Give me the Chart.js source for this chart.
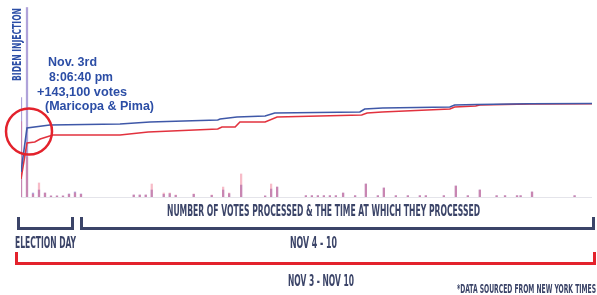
<!DOCTYPE html>
<html lang="en">
<head>
  <meta charset="UTF-8">
  <title>Biden injection</title>
  <style>
    html, body { margin: 0; padding: 0; background: #fff; }
    #wrap { width: 597px; height: 295px; }
  </style>
</head>
<body>
<div id="wrap">
  <canvas id="grafico" width="597" height="295"></canvas>
</div>

<script src="https://cdn.jsdelivr.net/npm/chart.js"></script>

<script>
  // reporting sequence (batch position) and running totals, thousands of votes
  const bidenX = [0, 1, 4.8, 16.5, 21.5, 32.8, 33.2, 36, 40.7, 42.3, 56.5, 57.3, 60.3, 71.5, 72.3, 76, 84.8, 95.2];
  const bidenY = [447, 1233, 1286, 1304, 1340, 1376, 1393, 1429, 1447, 1501, 1519, 1572, 1590, 1608, 1644, 1653, 1667, 1670];

  const trumpX = [0, 1, 2.3, 3.2, 5.3, 16.5, 21.2, 32.8, 33.5, 35.7, 36.5, 40.7, 42.7, 56.8, 57.7, 60.2, 71.5, 72.3, 75.8, 76.5, 84.8, 95.2];
  const trumpY = [322, 965, 983, 1036, 1108, 1108, 1161, 1215, 1251, 1251, 1340, 1340, 1429, 1465, 1501, 1519, 1572, 1608, 1626, 1644, 1661, 1667];

  // votes in each batch, thousands
  const batchX = [0, 1, 2, 3, 4, 5, 6, 7, 8, 9, 10, 18.8, 19.8, 20.8, 21.8, 23.8, 24.8, 25.8, 28.8, 31.8, 33.7, 34.7, 36.7, 40.7, 41.7, 42.7,
                  47.5, 48.5, 49.5, 50.5, 51.5, 52.5, 53.7, 55.7, 57.5, 59.5, 60.5, 62.5, 64.5, 66.5, 67.5, 70.5, 72.5, 74.5, 76.5, 79.3, 80.7, 82.7, 83.3, 85.2, 92.3];
  const batchBiden = [75, 143.1, 3, 5.3, 3, 0.8, 0.8, 0.8, 2.3, 3.8, 2.3, 1.5, 1.5, 1.5, 5.3, 2, 2.5, 1.2, 2, 1.2, 5.3, 2.5, 9, 0.8, 6, 7.5,
                      1, 1, 1, 1, 1, 1, 3, 1, 9.8, 1, 6.8, 1, 1, 1, 1, 1, 8.3, 1, 5.3, 1, 1, 1, 1, 3.8, 1];
  const batchTrump = [57, 30, 2, 10.6, 3, 0.8, 0.8, 0.8, 2, 3, 2, 1.5, 1.5, 1.5, 9.8, 3, 3, 1.5, 2.3, 1.5, 7.5, 3, 17.4, 0.8, 9.8, 7.5,
                      1, 1, 1, 1, 1, 1, 3, 1, 9.8, 1, 6.8, 1, 1, 1, 1, 1, 8.3, 1, 5.3, 1, 1, 1, 1, 3.8, 1];

  const navy = '#3b4468';
  const rojo = '#e3222c';
  const azul = '#2c4ea6';

  function pares(xs, ys) {
    return xs.map((x, i) => ({ x: x, y: ys[i] }));
  }

  function textoAjustado(ctx, texto, x, y, ancho, size, color, font) {
    ctx.save();
    ctx.font = font.replace('SIZE', size + 'px');
    ctx.fillStyle = color;
    ctx.textBaseline = 'alphabetic';
    const w = ctx.measureText(texto).width;
    ctx.translate(x, y);
    ctx.scale(ancho / w, 1);
    ctx.fillText(texto, 0, 0);
    ctx.restore();
  }

  const condensada = 'bold SIZE "DejaVu Sans Condensed", "Liberation Sans Narrow", "DejaVu Sans", sans-serif';
  const arial = 'bold SIZE "Liberation Sans", Arial, sans-serif';

  const anotaciones = {
    id: 'anotaciones',
    beforeDatasetsDraw(chart) {
      const ctx = chart.ctx;
      const area = chart.chartArea;
      const y0 = chart.scales.y2.getPixelForValue(0);
      ctx.save();
      ctx.strokeStyle = '#e4e4ea';
      ctx.lineWidth = 1;
      ctx.beginPath();
      ctx.moveTo(area.left, y0 + 0.5);
      ctx.lineTo(area.right, y0 + 0.5);
      ctx.stroke();
      ctx.restore();
    },
    afterDraw(chart) {
      const ctx = chart.ctx;

      // circulo rojo
      ctx.save();
      ctx.strokeStyle = rojo;
      ctx.lineWidth = 2.5;
      ctx.beginPath();
      ctx.arc(29, 131.5, 23, 0, Math.PI * 2);
      ctx.stroke();

      // corchetes
      ctx.lineWidth = 3;
      ctx.strokeStyle = navy;
      ctx.beginPath();
      ctx.moveTo(18.5, 217); ctx.lineTo(18.5, 228.5); ctx.lineTo(72.5, 228.5); ctx.lineTo(72.5, 217);
      ctx.stroke();
      ctx.beginPath();
      ctx.moveTo(81.5, 217); ctx.lineTo(81.5, 228.5); ctx.lineTo(593.5, 228.5); ctx.lineTo(593.5, 217);
      ctx.stroke();
      ctx.strokeStyle = rojo;
      ctx.beginPath();
      ctx.moveTo(16.5, 252); ctx.lineTo(16.5, 263.5); ctx.lineTo(594.5, 263.5); ctx.lineTo(594.5, 252);
      ctx.stroke();
      ctx.restore();

      // texto vertical
      ctx.save();
      ctx.translate(21, 81);
      ctx.rotate(-Math.PI / 2);
      textoAjustado(ctx, 'BIDEN INJECTION', 0, 0, 73, 12.5, azul, condensada);
      ctx.restore();

      // nota azul
      textoAjustado(ctx, 'Nov. 3rd', 48, 65.5, 49, 13.5, azul, arial);
      textoAjustado(ctx, '8:06:40 pm', 49, 80.5, 64, 13.5, azul, arial);
      textoAjustado(ctx, '+143,100 votes', 37, 95.5, 90, 13.5, azul, arial);
      textoAjustado(ctx, '(Maricopa & Pima)', 45, 109.5, 109, 13.5, azul, arial);

      // etiquetas
      textoAjustado(ctx, 'NUMBER OF VOTES PROCESSED & THE TIME AT WHICH THEY PROCESSED', 167, 215.5, 313, 15, navy, condensada);
      textoAjustado(ctx, 'ELECTION DAY', 15, 248, 61, 15, navy, condensada);
      textoAjustado(ctx, 'NOV 4 - 10', 290, 248, 47, 15, navy, condensada);
      textoAjustado(ctx, 'NOV 3 - NOV 10', 288, 286, 66, 15, navy, condensada);
      textoAjustado(ctx, '*DATA SOURCED FROM NEW YORK TIMES', 457, 292.5, 139, 11.5, navy, condensada);
    }
  };

  const ctx = document.getElementById('grafico').getContext('2d');
  new Chart(ctx, {
    type: 'line',
    data: {
      datasets: [
        {
          label: 'Biden',
          data: pares(bidenX, bidenY),
          borderColor: '#3f58a8',
          borderWidth: 1.6,
          pointRadius: 0,
          tension: 0,
          yAxisID: 'y',
          order: 0
        },
        {
          label: 'Trump',
          data: pares(trumpX, trumpY),
          borderColor: '#e2323e',
          borderWidth: 1.6,
          pointRadius: 0,
          tension: 0,
          yAxisID: 'y',
          order: 1
        },
        {
          type: 'bar',
          label: 'Biden batch',
          data: pares(batchX, batchBiden),
          backgroundColor: 'rgba(110, 85, 185, 0.55)',
          barThickness: 1.6,
          grouped: false,
          yAxisID: 'y2',
          order: 3
        },
        {
          type: 'bar',
          label: 'Trump batch',
          data: pares(batchX, batchTrump),
          backgroundColor: 'rgba(235, 95, 125, 0.42)',
          barThickness: 1.6,
          grouped: false,
          yAxisID: 'y2',
          order: 2
        }
      ]
    },
    options: {
      responsive: false,
      animation: false,
      layout: {
        padding: { left: 21, right: 5, top: 5, bottom: 98 }
      },
      plugins: {
        legend: { display: false },
        tooltip: { enabled: false }
      },
      scales: {
        x: { type: 'linear', min: 0, max: 95.2, display: false, offset: false },
        y: { min: 0, max: 3430, display: false },
        y2: { min: 0, max: 145, display: false }
      }
    },
    plugins: [anotaciones]
  });
</script>
</body>
</html>
